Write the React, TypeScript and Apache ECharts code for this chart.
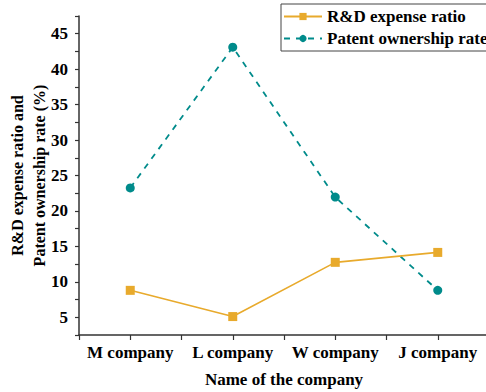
import React, { useEffect, useRef } from "react";
import * as echarts from "echarts";

const categories = ["M company", "L company", "W company", "J company"];
const rdExpenseRatio = [8.8, 5.1, 12.75, 14.15];
const patentOwnershipRate = [23.25, 43.1, 21.95, 8.8];
const yMin = 2.5;
const yMax = 47.5;
const yInterval = 2.5;

const FONT = "Liberation Serif";

export default function App() {
  const ref = useRef<HTMLDivElement>(null);
  useEffect(() => {
    if (!ref.current) return;
    const chart = echarts.init(ref.current, null, { renderer: "svg" });
    const toPairs = (arr: number[]) => arr.map((v, i) => [i + 1, v]);
    chart.setOption({
      animation: false,
      backgroundColor: "#ffffff",
      textStyle: { fontFamily: FONT },
      grid: { left: 79, right: -3, top: 16, bottom: 57, containLabel: false, outerBoundsMode: "none" },
      legend: {
        orient: "vertical",
        left: 281,
        top: 4,
        borderColor: "#444",
        borderWidth: 1,
        padding: [4, 6, 4, 2],
        itemWidth: 38,
        itemHeight: 9,
        itemGap: 5,
        textStyle: { fontFamily: FONT, fontWeight: "bold", fontSize: 17, color: "#000" },
        data: ["R&D expense ratio", "Patent ownership rate"],
      },
      xAxis: {
        type: "value",
        min: 0.5,
        max: 4.5,
        interval: 0.5,
        name: "Name of the company",
        nameLocation: "middle",
        nameGap: 36,
        nameMoveOverlap: false,
        nameTextStyle: { fontFamily: FONT, fontWeight: "bold", fontSize: 17, color: "#000" },
        splitLine: { show: false },
        axisLine: { show: true, lineStyle: { color: "#333", width: 1.5 } },
        axisTick: { show: true, inside: false, length: 5, lineStyle: { color: "#333", width: 1.2 } },
        axisLabel: {
          margin: 9,
          fontFamily: FONT,
          fontWeight: "bold",
          fontSize: 17,
          color: "#000",
          showMinLabel: true,
          showMaxLabel: true,
          formatter: (v: number) => (Number.isInteger(v) && v >= 1 && v <= categories.length ? categories[v - 1] : ""),
        },
      },
      yAxis: {
        type: "value",
        min: yMin,
        max: yMax,
        interval: yInterval,
        name: "R&D expense ratio and\nPatent ownership rate (%)",
        nameLocation: "middle",
        nameGap: 29,
        nameMoveOverlap: false,
        nameTextStyle: { fontFamily: FONT, fontWeight: "bold", fontSize: 16, color: "#000", lineHeight: 22 },
        splitLine: { show: false },
        axisLine: { show: true, lineStyle: { color: "#333", width: 1.5 } },
        axisTick: { show: true, inside: false, length: 4, lineStyle: { color: "#333", width: 1.2 } },
        axisLabel: {
          margin: 11,
          fontFamily: FONT,
          fontWeight: "bold",
          fontSize: 17,
          color: "#000",
          formatter: (v: number) => (Math.abs(v % 5) < 1e-9 ? String(v) : ""),
        },
      },
      series: [
        {
          name: "R&D expense ratio",
          type: "line",
          data: toPairs(rdExpenseRatio),
          symbol: "rect",
          symbolSize: 9,
          itemStyle: { color: "#E8AA2C" },
          lineStyle: { color: "#E8AA2C", width: 1.6 },
          z: 3,
        },
        {
          name: "Patent ownership rate",
          type: "line",
          data: toPairs(patentOwnershipRate),
          symbol: "circle",
          symbolSize: 9,
          itemStyle: { color: "#008B8B" },
          lineStyle: { color: "#008B8B", width: 1.8, type: [6, 6] },
          z: 2,
        },
      ],
    });
    return () => chart.dispose();
  }, []);
  return (
    <div
      ref={ref}
      style={{ position: "absolute", left: 0, top: 0, width: 486, height: 392 }}
    />
  );
}
